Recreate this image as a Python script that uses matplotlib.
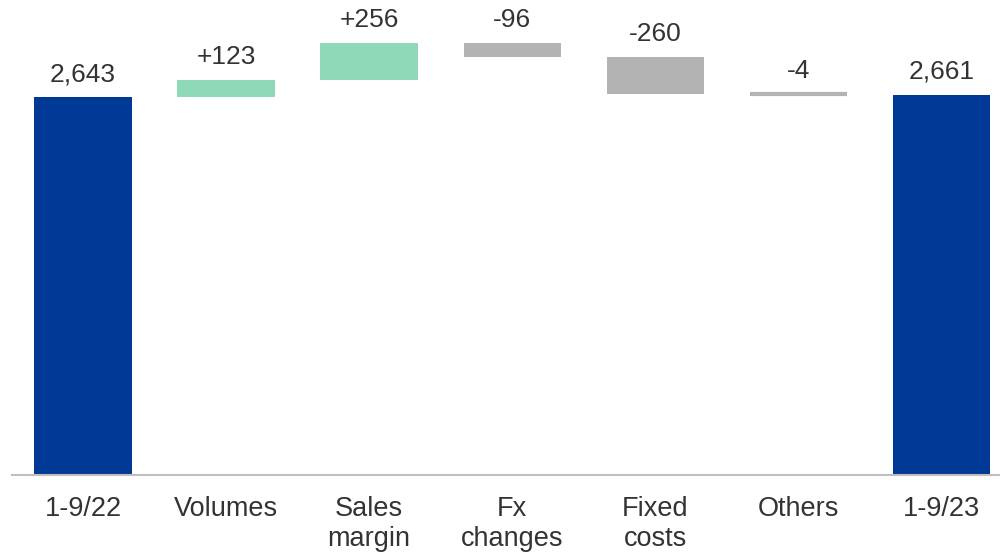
import numpy as np
import matplotlib.pyplot as plt

plt.rcParams['font.family'] = ['Liberation Sans', 'DejaVu Sans']

# Data
categories = ["1-9/22", "Volumes", "Sales\nmargin", "Fx\nchanges", "Fixed\ncosts", "Others", "1-9/23"]
start_total = 2643
deltas = [123, 256, -96, -260, -4]
end_total = 2661
labels = ["2,643", "+123", "+256", "-96", "-260", "-4", "2,661"]

blue = "#003A96"
green = "#8DD9B8"
grey = "#B3B3B3"

fig = plt.figure(figsize=(10, 5.52), dpi=100)
ax = fig.add_axes([0.0115, 1 - 475 / 552, 0.9885, 475 / 552])

x = np.arange(len(categories))
w = 0.68

# Build waterfall
bottoms = [0]
heights = [start_total]
colors = [blue]
level = start_total
for d in deltas:
    if d >= 0:
        bottoms.append(level)
        heights.append(d)
        colors.append(green)
    else:
        bottoms.append(level + d)
        heights.append(-d)
        colors.append(grey)
    level += d
bottoms.append(0)
heights.append(end_total)
colors.append(blue)

# tiny bars get an outline so they stay visible
edge_w = [3 if h < 20 else 0 for h in heights]
ax.bar(x, heights, bottom=bottoms, width=w, color=colors,
       edgecolor=colors, linewidth=edge_w)

for xi, b, h, lab in zip(x, bottoms, heights, labels):
    ax.text(xi, b + h + 75, lab, ha="center", va="bottom", fontsize=19, color="#333333")

ax.set_xlim(-0.5, 6.41)
ax.set_ylim(0, 3322)
ax.set_xticks(x)
ax.set_xticklabels(categories, fontsize=19.5, color="#333333", linespacing=1.2)
ax.tick_params(axis="x", length=0, pad=15)
ax.set_yticks([])
for s in ["top", "right", "left"]:
    ax.spines[s].set_visible(False)
ax.spines["bottom"].set_color("#BFBFBF")
ax.spines["bottom"].set_linewidth(1.5)

fig.savefig("out.png", dpi=100)
